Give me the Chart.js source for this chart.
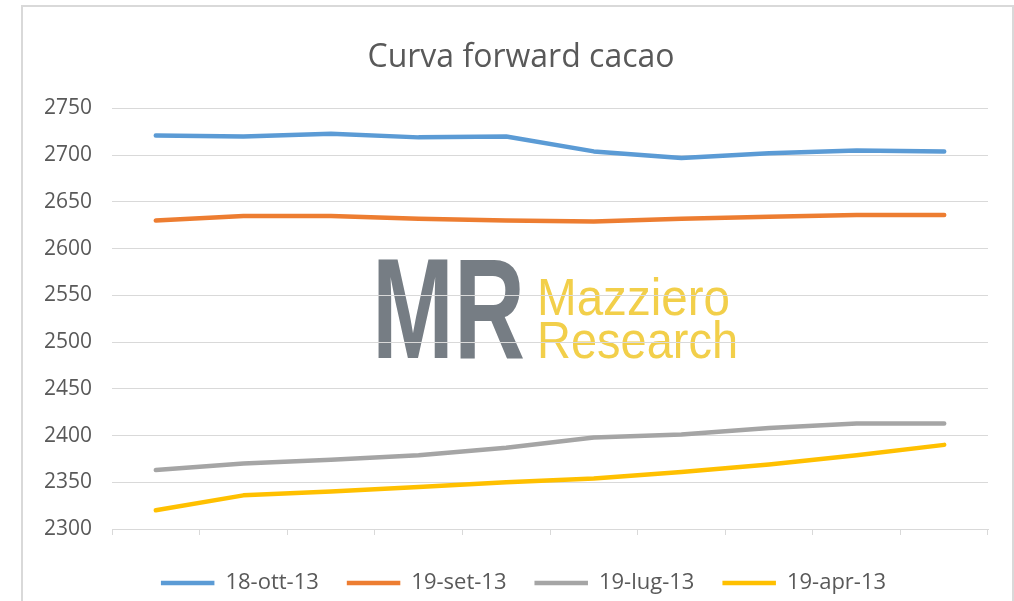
<!DOCTYPE html>
<html>
<head>
<meta charset="utf-8">
<script src="https://cdn.jsdelivr.net/npm/chart.js@4.4.0/dist/chart.umd.min.js"></script>
<style>
  html, body { margin: 0; padding: 0; background: #fff; overflow: hidden; }
  #frame {
    position: absolute; left: 21px; top: 5px; width: 993px; height: 700px;
    box-sizing: border-box; border: 2px solid #d9d9d9;
  }
  #chart { position: absolute; left: 0; top: 0; }
</style>
</head>
<body>
<div id="frame"></div>
<canvas id="chart" width="1014" height="601"></canvas>
<script>
/* ===== Curva forward cacao ===== */
const categories = ['', '', '', '', '', '', '', '', '', ''];
const seriesNames = ['18-ott-13', '19-set-13', '19-lug-13', '19-apr-13'];
const ott13 = [2721, 2720, 2723, 2719, 2720, 2704, 2697, 2702, 2705, 2704];
const set13 = [2630, 2635, 2635, 2632, 2630, 2629, 2632, 2634, 2636, 2636];
const lug13 = [2363, 2370, 2374, 2379, 2387, 2398, 2401, 2408, 2413, 2413];
const apr13 = [2320, 2336, 2340, 2345, 2350, 2354, 2361, 2369, 2379, 2390];
const yTicks = [2300, 2350, 2400, 2450, 2500, 2550, 2600, 2650, 2700, 2750];

const colors = ['#5B9BD5', '#ED7D31', '#A5A5A5', '#FFC000'];
const textColor = '#595959';
const gridColor = '#d9d9d9';

// watermark drawn under the grid
const watermark = {
  id: 'watermark',
  beforeDraw(chart) {
    const ctx = chart.ctx;
    ctx.save();
    ctx.textBaseline = 'alphabetic';
    ctx.textAlign = 'left';
    ctx.fillStyle = '#767D84';
    ctx.font = 'bold 142px "Liberation Sans"';
    ctx.fillText('MR', 372, 358, 153);
    ctx.fillStyle = '#F2CF4A';
    ctx.font = '52px "Liberation Sans"';
    ctx.fillText('Mazziero', 537, 315, 193);
    ctx.fillText('Research', 537, 358, 201);
    ctx.restore();
  }
};

// title and legend sit a little right of the canvas centre
const boxShift = {
  id: 'boxShift',
  afterLayout(chart) {
    chart.legend.left += 9.5;
    chart.legend.right += 9.5;
    chart.titleBlock.left += 7;
    chart.titleBlock.right += 7;
  }
};

const makeSet = (label, data, color) => ({
  label,
  data,
  borderColor: color,
  backgroundColor: color,
  borderWidth: 4.5,
  borderCapStyle: 'round',
  borderJoinStyle: 'round',
  pointRadius: 0,
  tension: 0
});

new Chart(document.getElementById('chart'), {
  type: 'line',
  data: {
    labels: categories,
    datasets: [
      makeSet(seriesNames[0], ott13, colors[0]),
      makeSet(seriesNames[1], set13, colors[1]),
      makeSet(seriesNames[2], lug13, colors[2]),
      makeSet(seriesNames[3], apr13, colors[3])
    ]
  },
  options: {
    responsive: false,
    animation: false,
    layout: { padding: { left: 40, right: 26, top: 0, bottom: -3 } },
    plugins: {
      title: {
        display: true,
        text: 'Curva forward cacao',
        color: textColor,
        font: { family: 'Open Sans', size: 32, weight: 'normal' },
        padding: { top: 39, bottom: 31 }
      },
      legend: {
        position: 'bottom',
        labels: {
          usePointStyle: true,
          pointStyle: 'line',
          pointStyleWidth: 53.5,
          padding: 28,
          color: textColor,
          font: { family: 'Open Sans', size: 22 }
        }
      },
      tooltip: { enabled: false }
    },
    scales: {
      x: {
        offset: true,
        grid: { drawOnChartArea: false, drawTicks: true, tickLength: 6, color: gridColor, offset: true },
        border: { display: true, color: gridColor },
        ticks: { display: true, padding: 0, font: { size: 1 } },
        afterFit(scale) { scale.height = 15; }
      },
      y: {
        min: yTicks[0],
        max: yTicks[yTicks.length - 1],
        afterBuildTicks(scale) { scale.ticks = yTicks.map(v => ({ value: v })); },
        grid: { color: gridColor, drawTicks: false },
        border: { display: false },
        ticks: {
          padding: 20,
          color: textColor,
          font: { family: 'Open Sans', size: 21 },
          callback: v => String(v)
        },
        afterFit(scale) { scale.width = 72; }
      }
    }
  },
  plugins: [watermark, boxShift]
});
</script>
</body>
</html>
